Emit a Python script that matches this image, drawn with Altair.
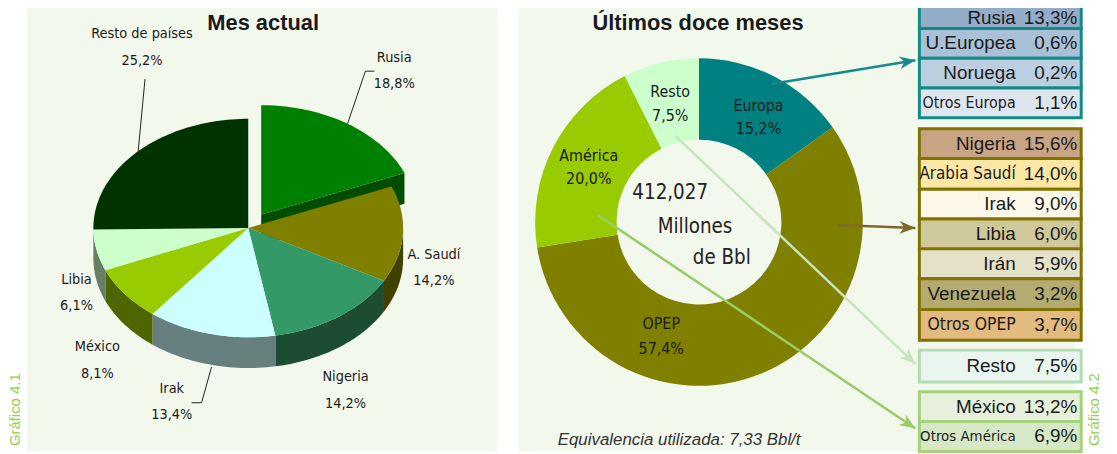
import altair as alt
import numpy as np
import pandas as pd

# ---------------- data ----------------
pie_names = ["Rusia", "A. Saudí", "Nigeria", "Irak", "México", "Libia", "Resto de países"]
pie_values = [18.8, 14.2, 14.2, 13.4, 8.1, 6.1, 25.2]

donut_names = ["Europa", "OPEP", "América", "Resto"]
donut_values = [15.2, 57.4, 20.0, 7.5]

europa_names = ["Rusia", "U.Europea", "Noruega", "Otros Europa"]
europa_values = [13.3, 0.6, 0.2, 1.1]
opep_names = ["Nigeria", "Arabia Saudí", "Irak", "Libia", "Irán", "Venezuela", "Otros OPEP"]
opep_values = [15.6, 14.0, 9.0, 6.0, 5.9, 3.2, 3.7]
resto_names = ["Resto"]
resto_values = [7.5]
america_names = ["México", "Otros América"]
america_values = [13.2, 6.9]

total_lines = ["412,027", "Millones", "de Bbl"]
title_left = "Mes actual"
title_right = "Últimos doce meses"
footnote = "Equivalencia utilizada: 7,33 Bbl/t"
fig_left = "Gráfico 4.1"
fig_right = "Gráfico 4.2"


def pct(v):
    return f"{v:.1f}".replace(".", ",") + "%"


# ---------------- styles / layout ----------------
W, H = 1109, 446
xs = alt.Scale(domain=[8, 1117], nice=False, zero=False)
ys = alt.Scale(domain=[8, 454], nice=False, zero=False, reverse=True)


def X(f="x"):
    return alt.X(f"{f}:Q", scale=xs, axis=None)


def Y(f="y"):
    return alt.Y(f"{f}:Q", scale=ys, axis=None)


BG = "#f3f8ed"
TXT = "#1a1a1a"
NARROW = "Liberation Sans Narrow, Arial Narrow, DejaVu Sans Condensed, sans-serif"
SANS = "Liberation Sans, Arial, sans-serif"

panels = pd.DataFrame(dict(x=[27, 522], x2=[501, 1083], y=[2, 2], y2=[453, 453]))

pie_top_colors = ["#008000", "#808000", "#339966", "#ccffff", "#99cc00", "#ccffcc", "#003300"]
pie_side_colors = ["#004d00", "#404000", "#1c4d33", "#668080", "#4d6600", "#668066", "#001a00"]
PCX, PCY, PRX, PRY, PDEPTH = 250, 228, 156, 110, 31
explode = {"Rusia": 0.15}

pie_label_pos = {
    "Rusia": (397, 57, 83),
    "A. Saudí": (437, 255, 281),
    "Nigeria": (348, 378, 405),
    "Irak": (173, 390, 416),
    "México": (98, 348, 375),
    "Libia": (77, 280, 307),
    "Resto de países": (143, 33, 60),
}
leaders = [
    [(146, 78), (139, 152)],
    [(350, 123), (368, 70), (377, 70)],
    [(213, 368), (203, 404), (193, 404)],
]

donut_colors = ["#008080", "#808000", "#99cc00", "#ccffcc"]
DCX, DCY, DR_OUT, DR_IN = 704, 222, 165, 83
donut_label_pos = {
    "Europa": (764, 105, 128),
    "OPEP": (666, 325, 350),
    "América": (593, 155, 179),
    "Resto": (675, 91, 115),
}
total_pos = [(675, 193), (700, 227), (727, 258)]

arrows = [
    dict(x=777, y=83, x2=922, y2=59, c="#168a8a"),
    dict(x=843, y=225, x2=922, y2=228, c="#7d6a2b"),
    dict(x=680, y=135, x2=922, y2=365, c="#c6e5bd"),
    dict(x=602, y=215, x2=922, y2=430, c="#99cc66"),
]

BOX_X, BOX_X2, NAME_R, VAL_R = 926, 1089, 1023, 1085
# font sizes for the condensed row labels (the rest use the regular face)
narrow_rows = {"Otros Europa": 16, "Arabia Saudí": 17, "Otros OPEP": 17.5, "Otros América": 15}
box_groups = [
    (europa_names, europa_values, ["#93adc9", "#a9c0d6", "#bccfe0", "#dde6ef"], "#138a8a",
     [-3, 27, 57, 87, 117]),
    (opep_names, opep_values,
     ["#c8a484", "#fbe8a6", "#fdf8ea", "#cfc89a", "#e5e1c8", "#b3ab72", "#e3ba80"], "#807300",
     [128, 158, 189, 219, 249, 279, 310, 341]),
    (resto_names, resto_values, ["#e9f5ee"], "#b4dcb1", [351, 383]),
    (america_names, america_values, ["#e6f0dc", "#d6e8c6"], "#a6d07a", [393, 423, 453]),
]

# ---------------- build pie geometry from the values ----------------
tot = sum(pie_values)
cum = np.concatenate([[0.0], np.cumsum(pie_values)]) / tot
top_rows, wall_rows = [], []


def ell(a, ox, oy, dz=0.0):
    r = np.radians(a)
    return PCX + ox + PRX * np.cos(r), PCY + oy - PRY * np.sin(r) + dz


for i, nm in enumerate(pie_names):
    a1 = 90 - 360 * cum[i]
    a2 = 90 - 360 * cum[i + 1]
    mid = np.radians((a1 + a2) / 2)
    e = explode.get(nm, 0.0)
    ox, oy = e * PRX * np.cos(mid), -e * PRY * np.sin(mid)
    n = max(int(abs(a1 - a2) / 1.5), 4)
    pts = [(PCX + ox, PCY + oy)] + [ell(a, ox, oy) for a in np.linspace(a1, a2, n)]
    for j, (x, y) in enumerate(pts):
        top_rows.append(dict(id=f"t{i}", o=j, x=x, y=y, c=pie_top_colors[i]))
    lo, hi = max(a2, -180.0), min(a1, 0.0)
    if lo < hi:
        wa = np.linspace(hi, lo, max(int((hi - lo) / 1.5), 3))
        wpts = [ell(a, ox, oy) for a in wa] + [ell(a, ox, oy, PDEPTH) for a in wa[::-1]]
        for j, (x, y) in enumerate(wpts):
            wall_rows.append(dict(id=f"w{i}a", o=j, x=x, y=y, c=pie_side_colors[i]))
    if e > 0:
        rim = ell(a2, ox, oy)
        rimd = ell(a2, ox, oy, PDEPTH)
        wpts = [(PCX + ox, PCY + oy), rim, rimd, (PCX + ox, PCY + oy + PDEPTH)]
        for j, (x, y) in enumerate(wpts):
            wall_rows.append(dict(id=f"w{i}b", o=j, x=x, y=y, c=pie_side_colors[i]))

top_df = pd.DataFrame(top_rows)
wall_df = pd.DataFrame(wall_rows)


def poly_layer(df):
    return alt.Chart(df).mark_line(filled=True, strokeWidth=0).encode(
        x=X(), y=Y(), color=alt.Color("c:N", scale=None), detail="id:N",
        order=alt.Order("o:Q"))


# ---------------- layers ----------------
bg = alt.Chart(panels).mark_rect(color=BG).encode(
    x=X(), x2=alt.X2("x2:Q"), y=Y(), y2=alt.Y2("y2:Q"))

lead_rows = []
for k, seg in enumerate(leaders):
    for j, (x, y) in enumerate(seg):
        lead_rows.append(dict(id=k, o=j, x=x, y=y))
lead = alt.Chart(pd.DataFrame(lead_rows)).mark_line(color="#222222", strokeWidth=1).encode(
    x=X(), y=Y(), detail="id:N", order=alt.Order("o:Q"))

pl_rows = []
for nm, v in zip(pie_names, pie_values):
    x, y1, y2 = pie_label_pos[nm]
    pl_rows.append(dict(x=x, y=y1, t=nm))
    pl_rows.append(dict(x=x, y=y2, t=pct(v)))
pie_labels = alt.Chart(pd.DataFrame(pl_rows)).mark_text(
    font=NARROW, fontSize=14.5, color=TXT, align="center", baseline="middle").encode(
    x=X(), y=Y(), text="t:N")

ddf = pd.DataFrame(dict(name=donut_names, v=donut_values, idx=range(len(donut_names)),
                        c=donut_colors))
donut = alt.Chart(ddf).mark_arc(innerRadius=DR_IN, outerRadius=DR_OUT).encode(
    theta=alt.Theta("v:Q", stack=True),
    order=alt.Order("idx:Q"),
    color=alt.Color("c:N", scale=None),
    x=alt.value(DCX - 8), y=alt.value(DCY - 8))

dl_rows = []
for nm, v in zip(donut_names, donut_values):
    x, y1, y2 = donut_label_pos[nm]
    dl_rows.append(dict(x=x, y=y1, t=nm))
    dl_rows.append(dict(x=x, y=y2, t=pct(v)))
donut_labels = alt.Chart(pd.DataFrame(dl_rows)).mark_text(
    font=NARROW, fontSize=16, color=TXT, align="center", baseline="middle").encode(
    x=X(), y=Y(), text="t:N")

tl = pd.DataFrame([dict(x=p[0], y=p[1], t=t) for t, p in zip(total_lines, total_pos)])
total_txt = alt.Chart(tl).mark_text(
    font=NARROW, fontSize=20.5, color="#222222", align="center", baseline="middle").encode(
    x=X(), y=Y(), text="t:N")

adf = pd.DataFrame(arrows)
adf["ang"] = (np.degrees(np.arctan2(adf.y2 - adf.y, adf.x2 - adf.x)) + 360) % 360
arrow_lines = alt.Chart(adf).mark_rule(strokeWidth=2.5).encode(
    x=X(), y=Y(), x2=alt.X2("x2:Q"), y2=alt.Y2("y2:Q"), color=alt.Color("c:N", scale=None))
HEAD = "M0,0 L-2,-0.8 L-1.4,0 L-2,0.8 Z"
arrow_heads = alt.Chart(adf).mark_point(shape=HEAD, filled=True, opacity=1, size=256).encode(
    x=X("x2"), y=Y("y2"), angle=alt.Angle("ang:Q", scale=None),
    color=alt.Color("c:N", scale=None))

box_rows, name_rows, val_rows = [], [], []
for names, vals, fills, stroke, edges in box_groups:
    for k, (nm, v) in enumerate(zip(names, vals)):
        y1, y2 = edges[k], edges[k + 1]
        box_rows.append(dict(x=BOX_X, x2=BOX_X2, y=y1, y2=y2, f=fills[k], s=stroke))
        ym = (max(y1, 5) + y2) / 2
        name_rows.append(dict(x=NAME_R, y=ym, t=nm, narrow=nm in narrow_rows,
                              fs=narrow_rows.get(nm, 19)))
        val_rows.append(dict(x=VAL_R, y=ym, t=pct(v)))
boxes = alt.Chart(pd.DataFrame(box_rows)).mark_rect(strokeWidth=3).encode(
    x=X(), x2=alt.X2("x2:Q"), y=Y(), y2=alt.Y2("y2:Q"),
    fill=alt.Fill("f:N", scale=None), stroke=alt.Stroke("s:N", scale=None))
ndf = pd.DataFrame(name_rows)
box_names_n = alt.Chart(ndf[~ndf.narrow]).mark_text(
    font=SANS, fontSize=19, color=TXT, align="right", baseline="middle").encode(
    x=X(), y=Y(), text="t:N")
box_names_c = alt.Chart(ndf[ndf.narrow]).mark_text(
    font=NARROW, color=TXT, align="right", baseline="middle").encode(
    x=X(), y=Y(), text="t:N", size=alt.Size("fs:Q", scale=None))
box_vals = alt.Chart(pd.DataFrame(val_rows)).mark_text(
    font=SANS, fontSize=19, color=TXT, align="right", baseline="middle").encode(
    x=X(), y=Y(), text="t:N")

titles = alt.Chart(pd.DataFrame(dict(x=[265, 703], y=[22, 22], t=[title_left, title_right]))).mark_text(
    font=SANS, fontSize=22, fontWeight="bold", color=TXT, align="center", baseline="middle").encode(
    x=X(), y=Y(), text="t:N")
foot = alt.Chart(pd.DataFrame(dict(x=[684], y=[442], t=[footnote]))).mark_text(
    font=SANS, fontSize=17, fontStyle="italic", color="#333333", align="center",
    baseline="middle").encode(x=X(), y=Y(), text="t:N")
figs = alt.Chart(pd.DataFrame(dict(x=[15, 1102], y=[411, 411], t=[fig_left, fig_right]))).mark_text(
    font=SANS, fontSize=15, color="#92d050", angle=270, align="center", baseline="middle").encode(
    x=X(), y=Y(), text="t:N")

chart = alt.layer(
    bg, poly_layer(wall_df), poly_layer(top_df), lead, pie_labels,
    donut, donut_labels, total_txt, arrow_lines, arrow_heads,
    boxes, box_names_n, box_names_c, box_vals, titles, foot, figs,
).properties(
    width=W, height=H, autosize=alt.AutoSizeParams(type="none"), padding=0,
    background="white",
).configure_view(stroke=None)

chart.save("out.html", embed_options={"renderer": "svg", "actions": False})
